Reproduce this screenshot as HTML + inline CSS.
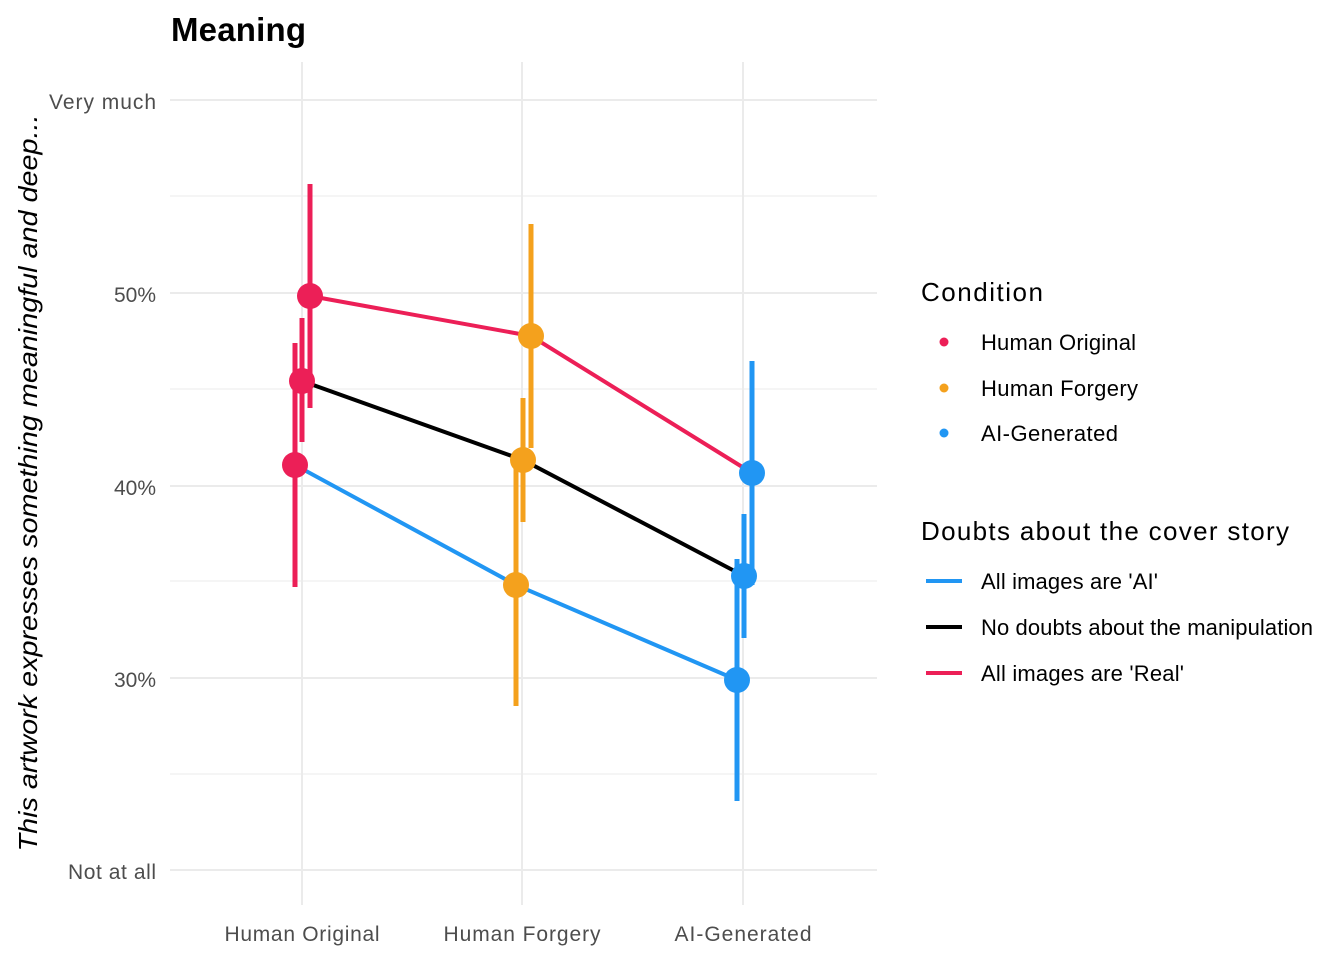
<!DOCTYPE html>
<html><head><meta charset="utf-8"><style>
body{margin:0;background:#fff}
svg{display:block;font-family:"Liberation Sans",Arial,sans-serif}
</style></head><body>
<svg width="1344" height="960" viewBox="0 0 1344 960">
<rect width="1344" height="960" fill="#fff"/>
<g stroke="#ebebeb" stroke-width="1">
<line x1="170" x2="877" y1="196" y2="196"/><line x1="170" x2="877" y1="389" y2="389"/>
<line x1="170" x2="877" y1="581" y2="581"/><line x1="170" x2="877" y1="774" y2="774"/>
</g>
<g stroke="#ebebeb" stroke-width="2">
<line x1="170" x2="877" y1="100" y2="100"/><line x1="170" x2="877" y1="293" y2="293"/>
<line x1="170" x2="877" y1="486" y2="486"/><line x1="170" x2="877" y1="678" y2="678"/>
<line x1="170" x2="877" y1="870" y2="870"/>
<line x1="302" x2="302" y1="62" y2="905"/><line x1="522" x2="522" y1="62" y2="905"/><line x1="743" x2="743" y1="62" y2="905"/>
</g>
<g fill="#4d4d4d" font-size="21" text-anchor="end">
<text x="156" y="109" textLength="107">Very much</text><text x="156" y="302">50%</text><text x="156" y="495">40%</text>
<text x="156" y="687">30%</text><text x="156" y="879" textLength="88">Not at all</text>
</g>
<g fill="#4d4d4d" font-size="21" text-anchor="middle">
<text x="302" y="941" textLength="155">Human Original</text><text x="522" y="941" textLength="157">Human Forgery</text><text x="743" y="941" textLength="137">AI-Generated</text>
</g>
<text x="171" y="41" font-size="33" font-weight="bold" textLength="135">Meaning</text>
<text transform="translate(37,483) rotate(-90)" text-anchor="middle" font-size="26" font-style="italic" textLength="737" lengthAdjust="spacingAndGlyphs">This artwork expresses something meaningful and deep...</text>
<g fill="none" stroke-width="4">
<polyline points="310,296 531,336 752,473" stroke="#EC1F57"/>
<polyline points="302,381 523,460 744,576" stroke="#000"/>
<polyline points="295,465 516,585 737,680" stroke="#2196F3"/>
</g>
<g stroke-width="5">
<line x1="310" x2="310" y1="184" y2="408" stroke="#EC1F57"/>
<line x1="302" x2="302" y1="318" y2="442" stroke="#EC1F57"/>
<line x1="295" x2="295" y1="343" y2="587" stroke="#EC1F57"/>
<line x1="531" x2="531" y1="224" y2="448" stroke="#F4A11D"/>
<line x1="523" x2="523" y1="398" y2="522" stroke="#F4A11D"/>
<line x1="516" x2="516" y1="464" y2="706" stroke="#F4A11D"/>
<line x1="752" x2="752" y1="361" y2="585" stroke="#2196F3"/>
<line x1="744" x2="744" y1="514" y2="638" stroke="#2196F3"/>
<line x1="737" x2="737" y1="559" y2="801" stroke="#2196F3"/>
</g>
<g>
<circle cx="310" cy="296" r="13" fill="#EC1F57"/><circle cx="302" cy="381" r="13" fill="#EC1F57"/><circle cx="295" cy="465" r="13" fill="#EC1F57"/>
<circle cx="531" cy="336" r="13" fill="#F4A11D"/><circle cx="523" cy="460" r="13" fill="#F4A11D"/><circle cx="516" cy="585" r="13" fill="#F4A11D"/>
<circle cx="752" cy="473" r="13" fill="#2196F3"/><circle cx="744" cy="576" r="13" fill="#2196F3"/><circle cx="737" cy="680" r="13" fill="#2196F3"/>
</g>
<text x="921" y="301" font-size="26" textLength="122">Condition</text>
<circle cx="944" cy="342" r="4.5" fill="#EC1F57"/><circle cx="944" cy="388" r="4.5" fill="#F4A11D"/><circle cx="944" cy="433" r="4.5" fill="#2196F3"/>
<g font-size="22"><text x="981" y="350" textLength="155">Human Original</text><text x="981" y="396" textLength="157">Human Forgery</text><text x="981" y="441" textLength="137">AI-Generated</text></g>
<text x="921" y="540" font-size="26" textLength="368">Doubts about the cover story</text>
<g stroke-width="4"><line x1="926" x2="962" y1="581" y2="581" stroke="#2196F3"/><line x1="926" x2="962" y1="627" y2="627" stroke="#000"/><line x1="926" x2="962" y1="673" y2="673" stroke="#EC1F57"/></g>
<g font-size="22"><text x="981" y="589" textLength="177">All images are 'AI'</text><text x="981" y="635" textLength="332">No doubts about the manipulation</text><text x="981" y="681" textLength="203">All images are 'Real'</text></g>
</svg>
</body></html>
